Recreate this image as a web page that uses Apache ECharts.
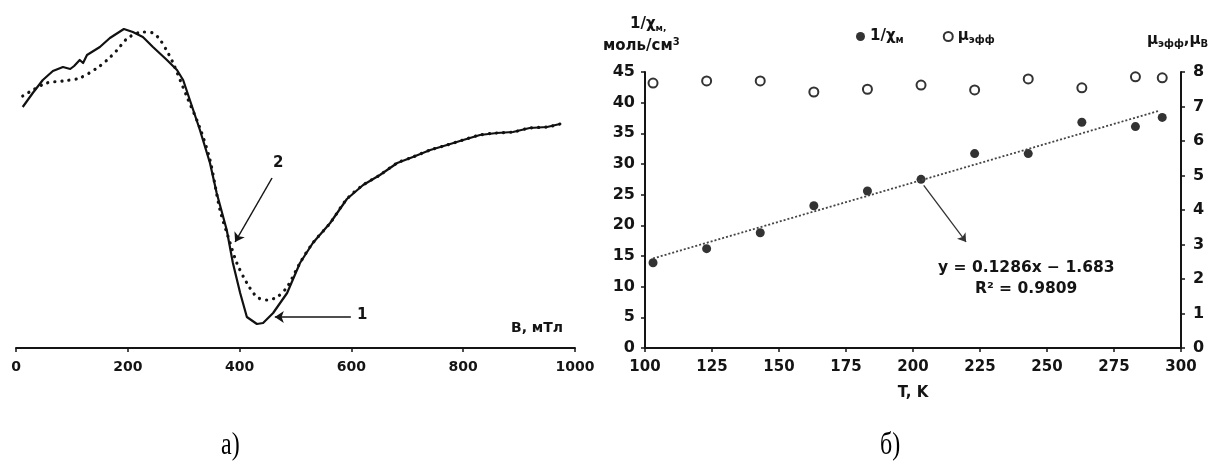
<!DOCTYPE html>
<html><head><meta charset="utf-8">
<script src="https://cdn.jsdelivr.net/npm/echarts@6/dist/echarts.min.js"></script>
<style>html,body{margin:0;padding:0;background:#fff}#c{width:1217px;height:471px}</style>
</head><body><div id="c"></div>
<script>
// ---- Panel a): spectra (B, mT vs. arbitrary intensity) ----
const solidB = [12,30,48,66,84,97,104,114,120,127,150,168,193,209,227,245,270,288,299,311,329,347,359,377,388,401,413,431,442,460,485,508,531,562,592,621,651,682,710,741,771,800,830,860,889,919,950,973];
const solidI = [241,255,268,277,281,279,282,288,285,293,301,310,319,316,311,301,288,278,268,248,218,185,155,118,85,55,31,24,25,35,55,85,105,125,149,163,173,185,191,198,203,208,213,215,216,220,221,224];
const dottedB = [12,30,55,84,114,145,163,181,200,227,245,258,272,281,306,329,347,365,383,395,413,431,449,467,485,508,531,562,592,621,651,682,710,741,771,800,830,860,889,919,950,973];
const dottedI = [252,258,265,267,270,280,288,298,310,316,315,308,295,285,251,220,188,138,105,85,65,51,48,51,61,85,105,125,149,163,173,185,191,198,203,208,213,215,216,220,221,224];
const bTicks = [0,200,400,600,800,1000];

// ---- Panel б): 1/chi and mu_eff vs T ----
const tempK = [103,123,143,163,183,203,223,243,263,283,293];
const invChi = [13.9,16.2,18.8,23.2,25.6,27.5,31.7,31.7,36.8,36.1,37.6];
const muEff = [7.68,7.74,7.74,7.42,7.5,7.62,7.48,7.8,7.54,7.86,7.83];
const trendT = [103,292];
const trendY = [14.6,38.7];

const zip = (a,b)=>a.map((v,i)=>[v,b[i]]);
const F = '"DejaVu Sans", Verdana, sans-serif';
const C = '#141414';
const lbl = {fontFamily:F,fontWeight:'bold',fontSize:15,color:C};
const axLine = {lineStyle:{color:C,width:2}};
const tick = {length:4,lineStyle:{color:C,width:1.5}};
const sub = (px)=>({font:'bold '+px+'px '+F,fill:C});

const chart = echarts.init(document.getElementById('c'));
chart.setOption({
  animation:false,
  backgroundColor:'#fff',
  legend:{
    left:851, top:24, itemWidth:9, itemHeight:9, itemGap:39,
    data:[{name:'inv',icon:'circle'},{name:'mu',icon:'emptyCircle'}],
    formatter:n=> n==='inv' ? '{b|1/χ}{s|м}' : '{b|μ}{s|эфф}',
    textStyle:{fontFamily:F,fontWeight:'bold',fontSize:15,color:C,
      rich:{b:{fontFamily:F,fontWeight:'bold',fontSize:15,color:C},
            s:{fontFamily:F,fontWeight:'bold',fontSize:10,color:C,padding:[8,0,0,0]}}}
  },
  grid:[
    {left:16,right:642,top:18,bottom:123},
    {left:645,right:36,top:72,bottom:123}
  ],
  xAxis:[
    {gridIndex:0,type:'value',min:0,max:1000,interval:200,
     axisLine:axLine,axisTick:tick,splitLine:{show:false},
     axisLabel:Object.assign({margin:12,formatter:v=>String(v)},lbl,{fontSize:14})},
    {gridIndex:1,type:'value',min:100,max:300,interval:25,
     axisLine:axLine,axisTick:tick,splitLine:{show:false},
     axisLabel:Object.assign({margin:12},lbl),
     name:'T, K',nameLocation:'middle',nameGap:38,
     nameTextStyle:{fontFamily:F,fontWeight:'bold',fontSize:15,color:C}}
  ],
  yAxis:[
    {gridIndex:0,type:'value',min:0,max:330,show:false},
    {gridIndex:1,type:'value',min:0,max:45,interval:5,position:'left',
     axisLine:Object.assign({show:true},axLine),axisTick:Object.assign({show:true},tick),splitLine:{show:false},
     axisLabel:Object.assign({margin:10},lbl,{fontSize:16})},
    {gridIndex:1,type:'value',min:0,max:8,interval:1,position:'right',
     axisLine:Object.assign({show:true},axLine),axisTick:Object.assign({show:true},tick),splitLine:{show:false},
     axisLabel:Object.assign({margin:12},lbl,{fontSize:16})}
  ],
  series:[
    {name:'curve2',type:'line',xAxisIndex:0,yAxisIndex:0,data:zip(dottedB,dottedI),
     showSymbol:false,smooth:0.3,lineStyle:{color:C,width:3.2,type:[0.1,7],cap:'round'}},
    {name:'curve1',type:'line',xAxisIndex:0,yAxisIndex:0,data:zip(solidB,solidI),
     showSymbol:false,smooth:false,lineStyle:{color:'#111',width:2.2,join:'round'},
     markLine:{silent:true,symbol:['none','arrow'],symbolSize:9,label:{show:false},
       lineStyle:{color:C,width:1.5,type:'solid'},
       data:[
         [{coord:[458,170]},{coord:[392,106]}],
         [{coord:[599,31]},{coord:[463,31]}]
       ]}},
    {name:'trend',type:'line',xAxisIndex:1,yAxisIndex:1,data:zip(trendT,trendY),
     showSymbol:false,lineStyle:{color:'#444',width:1.8,type:[2,2]},
     markLine:{silent:true,symbol:['none','arrow'],symbolSize:8,label:{show:false},
       lineStyle:{color:'#333',width:1.3,type:'solid'},
       data:[[{coord:[204,26.5]},{coord:[219.8,17.3]}]]}},
    {name:'inv',type:'scatter',xAxisIndex:1,yAxisIndex:1,data:zip(tempK,invChi),
     symbol:'circle',symbolSize:9,itemStyle:{color:'#000'}},
    {name:'mu',type:'scatter',xAxisIndex:1,yAxisIndex:2,data:zip(tempK,muEff),
     symbol:'emptyCircle',symbolSize:9,itemStyle:{color:'#000',borderColor:'#000',borderWidth:2.2}}
  ],
  graphic:[
    {type:'text',left:511,top:321,style:{text:'B, мТл',font:'bold 14px '+F,fill:C}},
    {type:'text',left:273,top:156,style:{text:'2',font:'bold 15px '+F,fill:C}},
    {type:'text',left:357,top:308,style:{text:'1',font:'bold 15px '+F,fill:C}},
    {type:'text',left:630,top:17,style:{text:'{b|1/χ}{s|м,}',fill:C,
      rich:{b:sub(15),s:Object.assign(sub(9),{padding:[8,0,0,0]})}}},
    {type:'text',left:603,top:37,style:{text:'{b|моль/см}{s|3}',fill:C,
      rich:{b:sub(15),s:Object.assign(sub(10),{padding:[0,0,8,0]})}}},
    {type:'text',left:1147,top:33,style:{text:'{b|μ}{s|эфф}{b|,μ}{s|B}',fill:C,
      rich:{b:sub(15),s:Object.assign(sub(10),{padding:[8,0,0,0]})}}},
    {type:'text',left:938,top:260,style:{text:'y = 0.1286x − 1.683',font:'bold 15.5px '+F,fill:C}},
    {type:'text',left:975,top:281,style:{text:'R² = 0.9809',font:'bold 15.5px '+F,fill:C}},
    {type:'text',x:221,y:430,scaleY:1.3,style:{text:'а)',font:'24px "Liberation Serif", serif',fill:'#000'}},
    {type:'text',x:880,y:430,scaleY:1.3,style:{text:'б)',font:'24px "Liberation Serif", serif',fill:'#000'}}
  ]
});
</script></body></html>
